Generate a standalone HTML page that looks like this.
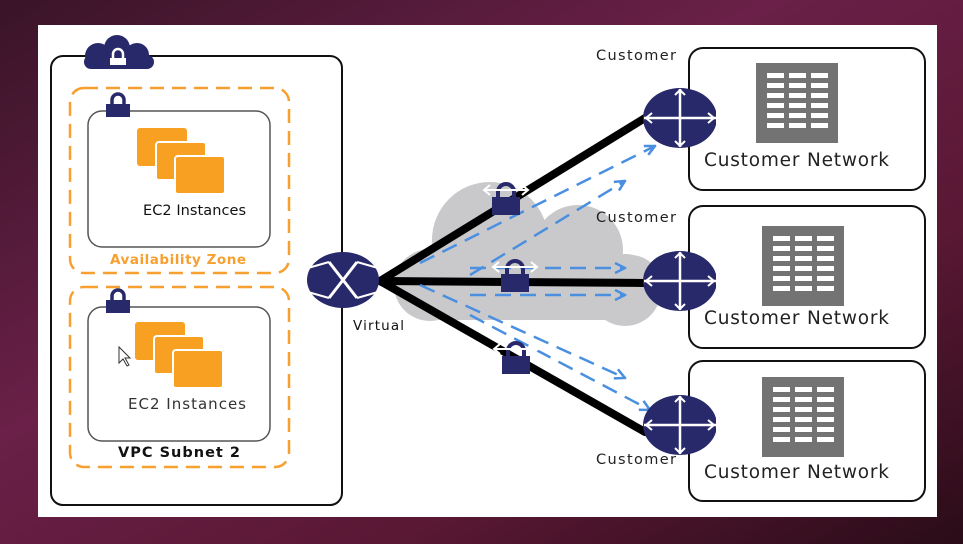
<!DOCTYPE html>
<html><head><meta charset="utf-8"><style>
html,body{margin:0;padding:0;width:963px;height:544px;overflow:hidden;background:#2a1020}
</style></head><body>
<svg width="963" height="544" viewBox="0 0 963 544" xmlns="http://www.w3.org/2000/svg" font-family="'DejaVu Sans','Liberation Sans',sans-serif">
<defs>
<linearGradient id="bg" x1="0" y1="0" x2="1" y2="1">
<stop offset="0" stop-color="#3a1428"/><stop offset="0.4" stop-color="#6a2048"/><stop offset="0.7" stop-color="#5a1834"/><stop offset="1" stop-color="#2a0c18"/>
</linearGradient>
<clipPath id="rc"><rect x="600" y="0" width="116" height="544"/></clipPath>
<marker id="ah" viewBox="0 0 10 10" refX="9" refY="5" markerWidth="5" markerHeight="5" orient="auto"><path d="M1 1 L9 5 L1 9" fill="none" stroke="#4a8fe0" stroke-width="2"/></marker>
<g id="router">
<ellipse cx="0" cy="0" rx="37" ry="30" fill="#28296a"/>
<path d="M-36 0 H36 M0 -29 V29" stroke="#fff" stroke-width="2.5"/>
<path d="M-28 -5 L-34 0 L-28 5 M28 -5 L34 0 L28 5 M-5 -23 L0 -28 L5 -23 M-5 23 L0 28 L5 23" fill="none" stroke="#fff" stroke-width="2"/>
</g>
<g id="lock">
<path d="M-8 0 V-6 A8 8 0 0 1 8 -6 V0" fill="none" stroke="#28296a" stroke-width="4"/>
<rect x="-14" y="-1" width="28" height="18" fill="#28296a"/>
<path d="M-22 -8 H22 M-16 -13 L-22 -8 L-16 -3 M16 -13 L22 -8 L16 -3" fill="none" stroke="#fff" stroke-width="2"/>
</g>
<g id="smlock">
<path d="M-6 0 V-5 A6 6 0 0 1 6 -5 V0" fill="none" stroke="#28296a" stroke-width="3.5"/>
<rect x="-12" y="-1" width="24" height="13" fill="#28296a"/>
</g>
<g id="ec2">
<rect x="0" y="0" width="50" height="38" rx="3" fill="#f7a021"/>
<rect x="19" y="14" width="50" height="38" rx="3" fill="#f7a021" stroke="#fff" stroke-width="2"/>
<rect x="38" y="28" width="50" height="38" rx="3" fill="#f7a021" stroke="#fff" stroke-width="2"/>
</g>
<g id="bld">
<rect x="0" y="0" width="82" height="80" fill="#737373"/>
<g fill="#fff">
<rect x="11" y="10" width="17" height="5"/><rect x="33" y="10" width="17" height="5"/><rect x="55" y="10" width="17" height="5"/>
<rect x="11" y="20" width="17" height="5"/><rect x="33" y="20" width="17" height="5"/><rect x="55" y="20" width="17" height="5"/>
<rect x="11" y="30" width="17" height="5"/><rect x="33" y="30" width="17" height="5"/><rect x="55" y="30" width="17" height="5"/>
<rect x="11" y="40" width="17" height="5"/><rect x="33" y="40" width="17" height="5"/><rect x="55" y="40" width="17" height="5"/>
<rect x="11" y="50" width="17" height="5"/><rect x="33" y="50" width="17" height="5"/><rect x="55" y="50" width="17" height="5"/>
<rect x="11" y="60" width="17" height="5"/><rect x="33" y="60" width="17" height="5"/><rect x="55" y="60" width="17" height="5"/>
</g>
</g>
</defs>
<rect width="963" height="544" fill="url(#bg)"/>
<rect x="38" y="25" width="899" height="492" fill="#fff"/>

<!-- VPC -->
<rect x="51" y="56" width="291" height="449" rx="12" fill="none" stroke="#111" stroke-width="2"/>
<g fill="#28296a">
<circle cx="98" cy="56" r="13"/><circle cx="117" cy="48" r="13"/><circle cx="137" cy="55" r="12"/>
<rect x="84" y="55" width="70" height="14" rx="7"/>
</g>
<path d="M113 58 V54 A5 5 0 0 1 123 54 V58" fill="none" stroke="#fff" stroke-width="2.5"/>
<rect x="110" y="58" width="16" height="7" fill="#fff"/>

<rect x="70" y="88" width="219" height="185" rx="14" fill="none" stroke="#f7a030" stroke-width="2.5" stroke-dasharray="14 8"/>
<rect x="88" y="111" width="182" height="136" rx="14" fill="#fff" stroke="#555" stroke-width="1.5"/>
<use href="#smlock" x="118" y="105"/>
<use href="#ec2" x="137" y="128"/>
<text x="143" y="215" font-size="14.5" textLength="103" fill="#111">EC2 Instances</text>
<text x="110" y="264" font-size="13.5" font-weight="bold" textLength="136" fill="#f7a030">Availability  Zone</text>

<rect x="70" y="287" width="219" height="180" rx="14" fill="none" stroke="#f7a030" stroke-width="2.5" stroke-dasharray="14 8"/>
<rect x="88" y="307" width="182" height="134" rx="14" fill="#fff" stroke="#555" stroke-width="1.5"/>
<use href="#smlock" x="118" y="301"/>
<use href="#ec2" x="135" y="322"/>
<text x="128" y="409" font-size="15" textLength="118" fill="#333">EC2 Instances</text>
<text x="118" y="457" font-size="14.5" font-weight="bold" textLength="122" fill="#111">VPC Subnet 2</text>
<path d="M119 347 L119 363 L123 359 L127 366 L129 365 L125 358 L130 358 Z" fill="#fff" stroke="#333" stroke-width="1"/>

<!-- grey cloud -->
<g fill="#c9c9cc">
<circle cx="490" cy="240" r="58"/><circle cx="578" cy="250" r="45"/><circle cx="430" cy="285" r="36"/><circle cx="625" cy="290" r="36"/>
<rect x="400" y="255" width="262" height="65" rx="32"/>
</g>

<!-- black lines -->
<path d="M380 281 L645 118 M380 281 L645 283 M380 281 L645 432" stroke="#000" stroke-width="8" stroke-linecap="round"/>

<!-- dashed blue arrows -->
<g stroke="#4a8fe0" stroke-width="2.5" fill="none" stroke-dasharray="16 9" marker-end="url(#ah)">
<path d="M420 263 L655 146"/>
<path d="M470 275 L625 181"/>
<path d="M470 268 L625 268"/>
<path d="M470 295 L625 295"/>
<path d="M420 285 L625 378"/>
<path d="M470 315 L650 410"/>
</g>

<use href="#lock" x="506" y="198"/>
<use href="#lock" x="515" y="275"/>
<use href="#lock" x="516" y="357"/>

<!-- virtual router -->
<ellipse cx="343" cy="280" rx="36" ry="28" fill="#28296a"/>
<path d="M329 262 L357 298 M357 262 L329 298" stroke="#fff" stroke-width="3"/>
<path d="M308 268 L329 262 M378 268 L357 262 M308 292 L329 298 M378 292 L357 298" stroke="#fff" stroke-width="2"/>
<text x="353" y="330" font-size="13.5" textLength="51" fill="#111">Virtual</text>

<!-- customer boxes -->
<rect x="689" y="48" width="236" height="142" rx="14" fill="#fff" stroke="#111" stroke-width="2"/>
<rect x="689" y="206" width="236" height="142" rx="14" fill="#fff" stroke="#111" stroke-width="2"/>
<rect x="689" y="361" width="236" height="140" rx="14" fill="#fff" stroke="#111" stroke-width="2"/>
<use href="#bld" x="756" y="63"/>
<use href="#bld" x="762" y="226"/>
<use href="#bld" x="762" y="377"/>
<g font-size="18.5" fill="#222">
<text x="704" y="166" textLength="185">Customer Network</text>
<text x="704" y="324" textLength="185">Customer Network</text>
<text x="704" y="478" textLength="185">Customer Network</text>
</g>
<g clip-path="url(#rc)">
<use href="#router" x="680" y="118"/>
<use href="#router" x="680" y="281"/>
<use href="#router" x="680" y="425"/>
</g>
<g font-size="14.5" fill="#222">
<text x="596" y="60" textLength="80">Customer</text>
<text x="596" y="222" textLength="80">Customer</text>
<text x="596" y="464" textLength="80">Customer</text>
</g>
</svg>
</body></html>
